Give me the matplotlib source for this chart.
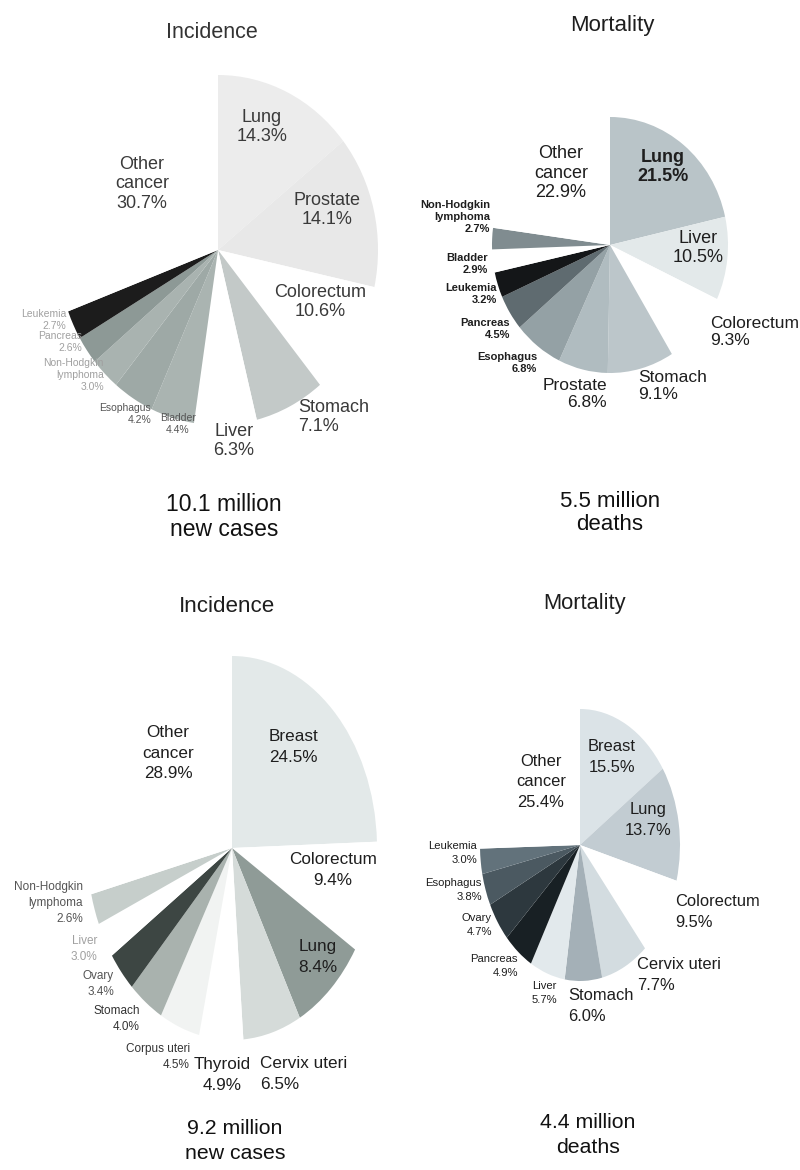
import matplotlib.pyplot as plt
from matplotlib import font_manager

plt.rcParams['font.family'] = ['Liberation Sans', 'DejaVu Sans']

# --- data (percent of all cancers, clockwise from 12 o'clock) ---
male_inc_sites = ['Lung', 'Prostate', 'Colorectum', 'Stomach', 'Liver', 'Bladder',
                  'Esophagus', 'Non-Hodgkin\nlymphoma', 'Pancreas', 'Leukemia', 'Other\ncancer']
male_inc_pct = [14.3, 14.1, 10.6, 7.1, 6.3, 4.4, 4.2, 3.0, 2.6, 2.7, 30.7]

male_mort_sites = ['Lung', 'Liver', 'Colorectum', 'Stomach', 'Prostate', 'Esophagus',
                   'Pancreas', 'Leukemia', 'Bladder', 'Non-Hodgkin\nlymphoma', 'Other\ncancer']
male_mort_pct = [21.5, 10.5, 9.3, 9.1, 6.8, 6.8, 4.5, 3.2, 2.9, 2.7, 22.9]

fem_inc_sites = ['Breast', 'Colorectum', 'Lung', 'Cervix uteri', 'Thyroid', 'Corpus uteri',
                 'Stomach', 'Ovary', 'Liver', 'Non-Hodgkin\nlymphoma', 'Other\ncancer']
fem_inc_pct = [24.5, 9.4, 8.4, 6.5, 4.9, 4.5, 4.0, 3.4, 3.0, 2.6, 28.9]

fem_mort_sites = ['Breast', 'Lung', 'Colorectum', 'Cervix uteri', 'Stomach', 'Liver',
                  'Pancreas', 'Ovary', 'Esophagus', 'Leukemia', 'Other\ncancer']
fem_mort_pct = [15.5, 13.7, 9.5, 7.7, 6.0, 5.7, 4.9, 4.7, 3.8, 3.0, 25.4]

totals = ['10.1 million\nnew cases', '5.5 million\ndeaths',
          '9.2 million\nnew cases', '4.4 million\ndeaths']
titles = ['Incidence', 'Mortality', 'Incidence', 'Mortality']

# --- styles ---
male_inc_colors = ['#ececec', '#e8e8e8', '#ffffff', '#c3c9c8', '#ffffff', '#aab4b1',
                   '#9ea9a6', '#a9b3b0', '#8d9996', '#1c1c1c', '#ffffff']
male_mort_colors = ['#b9c4c8', '#e3e9ea', '#ffffff', '#bcc6ca', '#b0bcc0', '#94a1a5',
                    '#5f6b70', '#141618', '#ffffff', '#808c90', '#ffffff']
fem_inc_colors = ['#e3e9e9', '#ffffff', '#8f9b97', '#d5dbd9', '#ffffff', '#f1f3f2',
                  '#a9b2ae', '#3d4643', '#ffffff', '#c6cecb', '#ffffff']
fem_mort_colors = ['#dbe3e7', '#c2ccd2', '#ffffff', '#d3dce0', '#a4b0b7', '#e2e9ec',
                   '#182024', '#2d383e', '#4b5961', '#62727b', '#ffffff']

# the scanned lower half uses a tall, condensed face
avail = {f.name for f in font_manager.fontManager.ttflist}
if 'Liberation Sans Narrow' in avail:
    NARROW, NK = ['Liberation Sans Narrow', 'DejaVu Sans'], 1.0
else:
    NARROW, NK = ['Liberation Sans', 'DejaVu Sans'], 0.85
REG = ['Liberation Sans', 'DejaVu Sans']

W, H = 800, 1170
fig = plt.figure(figsize=(W / 100, H / 100), dpi=100)

# pie centre / half-width / half-height in pixels (scan is stretched vertically)
pie_boxes = [(218, 250, 160, 175), (610, 245, 118, 128),
             (232, 848, 145, 192), (580, 845, 100, 136)]

pies = [(male_inc_sites, male_inc_pct, male_inc_colors),
        (male_mort_sites, male_mort_pct, male_mort_colors),
        (fem_inc_sites, fem_inc_pct, fem_inc_colors),
        (fem_mort_sites, fem_mort_pct, fem_mort_colors)]

for (cx, cy, a, b), (sites, pct, cols) in zip(pie_boxes, pies):
    ax = fig.add_axes([(cx - a) / W, 1 - (cy + b) / H, 2 * a / W, 2 * b / H])
    ax.pie(pct, colors=cols, startangle=90, counterclock=False, radius=1,
           wedgeprops=dict(linewidth=0))
    ax.set_aspect('auto')
    ax.set_xlim(-1, 1)
    ax.set_ylim(-1, 1)
    ax.axis('off')

# text layer in pixel coordinates
tx = fig.add_axes([0, 0, 1, 1])
tx.set_xlim(0, W)
tx.set_ylim(H, 0)
tx.axis('off')

DARK = '#1e1e1e'
GREY = '#3a3a3a'
FADE = '#a0a0a0'

# label anchor (x, y, ha), size, weight, colour -- same order as the sites
male_inc_lab = [(262, 127, 'center', 13, 'normal', GREY),
                (327, 210, 'center', 13, 'normal', GREY),
                (320, 302, 'center', 13, 'normal', GREY),
                (298, 417, 'left', 13, 'normal', GREY),
                (234, 441, 'center', 13, 'normal', GREY),
                (178, 424, 'center', 7.5, 'normal', '#555555'),
                (151, 414, 'right', 7.5, 'normal', '#555555'),
                (104, 375, 'right', 7.5, 'normal', FADE),
                (82, 342, 'right', 7.5, 'normal', FADE),
                (66, 320, 'right', 7.5, 'normal', FADE),
                (142, 184, 'center', 13, 'normal', GREY)]
male_mort_lab = [(663, 167, 'center', 13, 'bold', DARK),
                 (698, 248, 'center', 13, 'normal', DARK),
                 (710, 332, 'left', 12.5, 'normal', DARK),
                 (638, 386, 'left', 12.5, 'normal', DARK),
                 (607, 394, 'right', 12.5, 'normal', DARK),
                 (537, 363, 'right', 8, 'bold', DARK),
                 (510, 329, 'right', 8, 'bold', DARK),
                 (497, 294, 'right', 8, 'bold', DARK),
                 (488, 264, 'right', 8, 'bold', DARK),
                 (490, 217, 'right', 8, 'bold', DARK),
                 (561, 173, 'center', 13, 'normal', DARK)]
fem_inc_lab = [(293, 747, 'center', 14.5, 'normal', DARK),
               (333, 870, 'center', 14.5, 'normal', DARK),
               (318, 957, 'center', 14.5, 'normal', DARK),
               (260, 1074, 'left', 14.5, 'normal', DARK),
               (222, 1075, 'center', 14.5, 'normal', DARK),
               (190, 1057, 'right', 10, 'normal', '#333333'),
               (140, 1019, 'right', 10, 'normal', '#333333'),
               (114, 984, 'right', 10, 'normal', '#555555'),
               (97, 949, 'right', 10, 'normal', FADE),
               (83, 903, 'right', 10, 'normal', '#555555'),
               (168, 753, 'center', 14.5, 'normal', DARK)]
fem_mort_lab = [(612, 757, 'center', 14, 'normal', DARK),
                (648, 820, 'center', 14, 'normal', DARK),
                (675, 912, 'left', 14, 'normal', DARK),
                (637, 975, 'left', 14, 'normal', DARK),
                (568, 1006, 'left', 14, 'normal', DARK),
                (544, 993, 'center', 9.5, 'normal', DARK),
                (518, 966, 'right', 9.5, 'normal', DARK),
                (492, 925, 'right', 9.5, 'normal', DARK),
                (482, 890, 'right', 9.5, 'normal', DARK),
                (477, 853, 'right', 9.5, 'normal', DARK),
                (541, 782, 'center', 14, 'normal', DARK)]

layouts = [male_inc_lab, male_mort_lab, fem_inc_lab, fem_mort_lab]
families = [REG, REG, NARROW, NARROW]
scales = [1.0, 1.0, NK, NK]
spacing = [1.22, 1.22, 1.45, 1.45]
for (sites, pct, _), lab, fam, k, ls in zip(pies, layouts, families, scales, spacing):
    for name, p, (x, y, ha, size, weight, col) in zip(sites, pct, lab):
        tx.text(x, y, f'{name}\n{p:.1f}%', ha=ha, va='center', multialignment=ha,
                fontsize=size * k, fontweight=weight, color=col, family=fam,
                linespacing=ls)

title_pos = [(212, 32, 15.5, '#333333'), (612, 26, 16, DARK),
             (227, 606, 19, DARK), (585, 604, 18.5, DARK)]
for t, (x, y, size, col), fam, k in zip(titles, title_pos, families, scales):
    tx.text(x, y, t, ha='center', va='center', fontsize=size * k, color=col, family=fam)

total_pos = [(224, 517, 16.5, 1.1), (610, 513, 16, 1.1),
             (235, 1141, 18, 1.35), (588, 1135, 18, 1.35)]
for t, (x, y, size, ls), fam, k in zip(totals, total_pos, families, scales):
    tx.text(x, y, t, ha='center', va='center', fontsize=size * k, color='#111111',
            family=fam, linespacing=ls)

fig.savefig('out.png', dpi=100, facecolor='white')
